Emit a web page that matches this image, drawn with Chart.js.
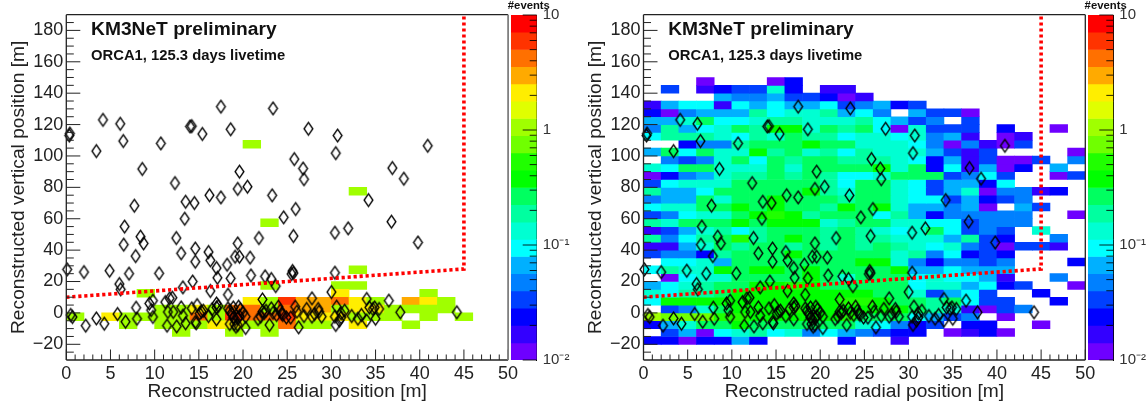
<!DOCTYPE html>
<html>
<head>
<meta charset="utf-8">
<title>ORCA1 event positions</title>
<script src="https://cdn.jsdelivr.net/npm/chart.js@4"></script>
<style>
  html, body { margin: 0; padding: 0; background: #fff; }
  #page { position: relative; width: 1148px; height: 407px; overflow: hidden; }
  canvas { position: absolute; top: 0; }
</style>
</head>
<body>
<div id="page">
  <canvas id="leftPlot" width="524" height="407" style="left:0"></canvas>
  <canvas id="leftBar" width="70" height="407" style="left:505px"></canvas>
  <canvas id="rightPlot" width="524" height="407" style="left:577px"></canvas>
  <canvas id="rightBar" width="66" height="407" style="left:1082px"></canvas>
</div>
<script>
// Axis and colour scale
const radialTicks = [0, 5, 10, 15, 20, 25, 30, 35, 40, 45, 50];
const radialMinorTicks = [1, 2, 3, 4, 6, 7, 8, 9, 11, 12, 13, 14, 16, 17, 18, 19, 21, 22, 23, 24, 26, 27, 28, 29, 31, 32, 33, 34, 36, 37, 38, 39, 41, 42, 43, 44, 46, 47, 48, 49];
const verticalTicks = [-20, 0, 20, 40, 60, 80, 100, 120, 140, 160, 180];
const verticalMinorTicks = [-25, -15, -10, -5, 5, 10, 15, 25, 30, 35, 45, 50, 55, 65, 70, 75, 85, 90, 95, 105, 110, 115, 125, 130, 135, 145, 150, 155, 165, 170, 175, 185];
const colorEdges = [0.01, 0.0141, 0.02, 0.0282, 0.0398, 0.0562, 0.0794, 0.112, 0.158, 0.224, 0.316, 0.447, 0.631, 0.891, 1.259, 1.778, 2.512, 3.548, 5.01, 7.08, 10];
const colorPalette = ['#6e00ff', '#3300ff', '#0000ff', '#0040ff', '#0080ff', '#00b0ff', '#00ffff', '#00ffd2', '#00ffa0', '#00ff60', '#00ff00', '#20ff00', '#70ff00', '#a0ff00', '#e0ff00', '#ffee00', '#ffaa00', '#ff7000', '#ff3300', '#ff0000'];
const colorTicks = [0.01, 0.1, 1, 10];
const colorTickLabels = ['10⁻²', '10⁻¹', '1', '10'];
const colorMinorTicks = [0.02, 0.03, 0.04, 0.05, 0.06, 0.07, 0.08, 0.09, 0.2, 0.3, 0.4, 0.5, 0.6, 0.7, 0.8, 0.9, 2, 3, 4, 5, 6, 7, 8, 9];

// Dotted cut line
const cutRadial = [0, 45, 45];
const cutVertical = [10, 28, 190];

// Left panel: signal histogram, lower bin edges and events
const signalRadial = [8, 22, 22, 20, 32, 32, 30, 32, 30, 40,
  20, 22, 24, 26, 28, 30, 32, 34, 38, 40, 42,
  10, 12, 14, 16, 18, 20, 22, 24, 26, 28, 30, 32, 34, 36, 38, 40, 42,
  0, 4, 6, 8, 10, 12, 14, 16, 18, 20, 22, 24, 26, 28, 30, 32, 34, 36, 40, 44,
  6, 10, 12, 14, 16, 18, 20, 22, 24, 26, 28, 32, 38,
  12, 18, 22];
const signalVertical = [10, 15, 55, 105, 75, 25, 15, 15, 10, 10,
  5, 5, 5, 5, 5, 5, 5, 5, 5, 5, 5,
  0, 0, 0, 0, 0, 0, 0, 0, 0, 0, 0, 0, 0, 0, 0, 0, 0,
  -5, -5, -5, -5, -5, -5, -5, -5, -5, -5, -5, -5, -5, -5, -5, -5, -5, -5, -5, -5,
  -10, -10, -10, -10, -10, -10, -10, -10, -10, -10, -10, -10, -10,
  -15, -15, -15];
const signalEvents = [1.06, 1.06, 1.06, 1.06, 1.06, 1.06, 1.06, 1.06, 2.1, 1.06,
  2.1, 1.06, 6, 3, 3, 4.2, 2.1, 1.06, 3, 2.1, 1.06,
  1.06, 1.06, 2.1, 1.06, 4.2, 4.2, 1.06, 4.2, 3, 3, 1.06, 2.1, 2.1, 1.06, 1.06, 1.06, 1.06,
  1.06, 2.1, 1.06, 1.06, 1.06, 1.06, 4.2, 1.06, 6, 4.2, 4.2, 6, 2.1, 2.1, 2.1, 1.06, 1.06, 1.06, 1.06, 1.06,
  1.06, 1.06, 1.06, 1.06, 2.1, 2.1, 1.06, 1.06, 4.2, 1.06, 1.06, 2.1, 1.06,
  1.06, 1.06, 1.06];

// Right panel: background histogram, one row per vertical bin
const radialBins = [0, 2, 4, 6, 8, 10, 12, 14, 16, 18, 20, 22, 24, 26, 28, 30, 32, 34, 36, 38, 40, 42, 44, 46, 48];
const verticalBins = [-20, -15, -10, -5, 0, 5, 10, 15, 20, 25, 30, 35, 40, 45, 50, 55, 60, 65, 70, 75, 80, 85, 90, 95, 100, 105, 110, 115, 120, 125, 130, 135, 140, 145];
const backgroundEvents = [
  [.024, .024, .012, .024, .024, .067, .024, 0, 0, 0, 0, .024, 0, 0, .017, 0, 0, 0, 0, 0, 0, 0, 0, 0, 0],
  [0, .033, .067, .012, .094, .13, .19, .094, .13, .047, .094, .067, .047, .033, .024, .024, 0, .012, .017, .024, .012, 0, 0, 0, 0],
  [.024, .067, .13, .27, .27, .37, .27, .27, .27, .27, .27, .27, .13, .094, .047, .024, .033, 0, .024, .024, 0, 0, .012, 0, 0],
  [1.06, .75, .75, .75, .53, .53, .37, .37, .37, .37, .37, .53, .27, .27, .27, .094, .067, .033, .047, 0, .012, 0, 0, 0, 0],
  [0, .033, .047, .13, .27, .37, .37, .37, .53, .37, .37, .37, .37, .37, .37, .27, .19, .13, .017, .012, .033, .047, 0, 0, 0],
  [.094, .37, .37, .37, .37, .37, .37, .37, .37, .37, .37, .53, .53, .37, .27, .27, .19, .27, .094, .033, .033, 0, 0, .024, 0],
  [.13, .094, .19, .19, .27, .37, .37, .37, .37, .37, .37, .37, .37, .27, .27, .13, .033, .067, .094, .033, 0, 0, .024, 0, 0],
  [.067, .094, .13, .19, .27, .27, .37, .37, .53, .37, .27, .27, .27, .27, .27, .094, .13, .13, .067, .094, .024, .033, 0, 0, .012],
  [0, .012, .094, .13, .13, .27, .27, .27, .27, .37, .27, .13, .27, .27, .27, .094, .13, .094, .094, .067, .017, 0, 0, .047, 0],
  [.094, .19, .13, .13, .37, .27, .37, .37, .27, .37, .27, .27, .27, .27, .37, .067, .067, .094, .067, .067, .067, 0, 0, 0, 0],
  [0, .094, .094, .13, .067, .27, .27, .27, .27, .27, .27, .27, .37, .37, .13, .047, .024, .047, .047, .033, .047, 0, 0, 0, .024],
  [.033, .047, .047, .024, .19, .27, .27, .27, .37, .27, .27, .27, .27, .27, .13, .19, .047, .094, .024, .033, .024, 0, 0, 0, 0],
  [.017, .017, .067, .13, .27, .19, .27, .27, .19, .27, .19, .27, .19, .27, .19, .13, .094, .13, .047, .033, .012, .033, .033, .017, 0],
  [.19, .047, .094, .19, .27, .53, .19, .27, .37, .27, .19, .27, .19, .19, .13, .13, .13, .067, .19, .033, .024, 0, 0, .047, 0],
  [.017, .033, .067, .13, .19, .094, .19, .27, .27, .27, .19, .27, .19, .13, .094, .13, .27, .094, .033, .047, .033, 0, .13, 0, 0],
  [.19, .13, .27, .27, .27, .37, .27, .37, .37, .37, .13, .19, .27, .27, .13, .13, .094, .094, .033, .047, .047, .047, 0, 0, 0],
  [.033, .047, .094, .13, .13, .27, .37, .53, .37, .19, .27, .27, .27, .094, .19, .067, .024, .047, .047, .047, .047, .047, 0, 0, .012],
  [.094, .13, .13, .27, .27, .37, .27, .37, .27, .27, .19, .37, .27, .37, .13, .067, .067, .047, .067, .012, 0, .067, .033, 0, 0],
  [.047, .067, .067, .27, .13, .27, .27, .37, .27, .27, .27, .19, .27, .27, .13, .094, .094, .033, .067, .024, .033, .047, 0, 0, 0],
  [.19, .067, .067, .094, .27, .27, .27, .27, .27, .37, .19, .13, .27, .27, .13, .094, .033, .067, .13, .012, .047, .047, .017, .024, 0],
  [.033, .094, .13, .13, .13, .27, .27, .27, .27, .27, .19, .094, .27, .27, .13, .094, .033, .067, .067, .024, .094, 0, 0, 0, 0],
  [.012, .024, .047, .067, .13, .19, .19, .27, .19, .27, .19, .094, .094, .13, .27, .27, .27, .033, .047, .094, .033, 0, 0, .012, .033],
  [.13, .094, .27, .27, .13, .13, .13, .27, .13, .27, .27, .27, .27, .37, .13, .27, .024, .094, .017, .067, .012, .024, 0, .067, 0],
  [0, .047, .033, .047, .13, .27, .094, .27, .19, .27, .27, .19, .19, .19, .13, .094, .024, .067, .017, .033, .012, .012, .033, 0, .047],
  [.067, .27, .094, .27, .13, .13, .37, .19, .27, .13, .19, .094, .19, .13, .13, .13, .067, .033, .017, .033, 0, 0, 0, 0, .012],
  [0, 0, .024, .047, .047, .19, .27, .27, .27, .37, .27, .27, .13, .13, .13, .094, .047, .012, .047, .017, .012, .033, 0, 0, 0],
  [.094, .19, .19, .19, .13, .094, .19, .13, .27, .19, .19, .094, .13, .13, .094, .13, .047, .067, .017, 0, .012, .017, 0, 0, 0],
  [.047, .19, .067, .094, .13, .27, .19, .37, .37, .13, .27, .19, .27, .094, .012, .13, .033, .033, .033, 0, .024, 0, 0, .012, 0],
  [.067, .067, .13, .27, .094, .094, .13, .19, .19, .13, .13, .13, .19, .094, .067, .033, .047, 0, .033, 0, 0, 0, 0, 0, 0],
  [.024, .012, .047, .067, .067, .067, .19, .094, .13, .13, .19, .067, .094, .047, 0, .067, .033, .033, .012, 0, 0, 0, 0, 0, 0],
  [.017, .067, .094, .094, .017, .094, .067, .094, .067, .067, .094, .033, .047, .067, .024, .033, 0, 0, 0, 0, 0, 0, 0, 0, 0],
  [0, 0, 0, 0, .067, .047, .047, .067, .033, .033, .024, .012, .017, 0, 0, 0, 0, 0, 0, 0, 0, 0, 0, 0, 0],
  [0, .033, 0, .017, .024, .033, .033, .13, .024, 0, .017, .017, 0, 0, 0, 0, 0, 0, 0, 0, 0, 0, 0, 0, 0],
  [0, 0, 0, .012, 0, 0, 0, .012, .024, 0, 0, 0, 0, 0, 0, 0, 0, 0, 0, 0, 0, 0, 0, 0, 0]
];

// Data events, same in both panels
const eventRadial = [0.34, 0.4, 3.4, 4.15, 6.1, 6.45, 8.6, 10.7, 12.3, 13.5, 14.5, 14, 14.2, 15.4, 16.2, 17.5, 17.5, 18.6, 19.4, 19.6, 20.5, 23.4, 23.3,
  27.4, 30.7, 30.5, 40.9, 25.8, 26.8, 26.9, 36.9, 38.2, 34.2,
  0.1, 2, 4.9, 6, 6.15, 6.6, 6.5, 7.85, 7.7, 8.4, 8.75, 7.1, 10.5, 12.45, 13, 13.4, 14.6, 14.6, 14.3, 13.2, 16.1, 16.3, 17, 17.1, 16.3, 18.2, 18.6, 18.3, 19.1, 19.6, 19.4, 20.8, 20.9, 21.8, 24.6, 22.5, 23.2, 23.7, 22.2, 25.5,
  0.5, 0.7, 2.2, 3.4, 4.3, 5.8, 6.7, 7.9, 8, 9.4, 9.8, 9.6, 9.8, 11.2, 11.5, 11.4, 11.7, 12, 12.1, 12.5, 13, 13.2, 13.5, 14.2, 14.6, 14.7, 14.8, 15.1, 15.3, 15.5, 16.1, 16.5, 17, 17, 17.2, 17,
  18.3, 18.5, 18.7, 18.9, 18.5, 18.9, 19.1, 19, 19.2, 19.4, 19.5, 19.7, 19.6, 20, 20.3, 20.3, 19.4,
  21.7, 22, 22.2, 22.4, 22.6, 23, 23.2, 23.4, 23.8, 24, 24.2, 24.4, 24.9,
  25.96, 25.7, 30.4, 31.9, 36.8, 39.8, 25.6, 25.7, 30.4, 30, 27.8, 34, 36.5, 25.9, 26.1, 27.2, 28.5, 28.6, 27.8, 28.1, 28.9, 26.9, 25.4, 26.3, 24.5, 30.6, 31.5, 31.1, 30.4, 31.1, 30.9, 30.5, 32.3, 33, 33.4, 34, 35, 34.3, 34.7, 34.9, 35.4, 37.8, 44.2];
const eventVertical = [113, 114.3, 103.1, 123, 120.5, 109.5, 91.7, 108, 82.7, 70.8, 70, 118.8, 119, 114, 75, 131.4, 73.6, 117, 79, 90, 80.4, 130.3, 74.9,
  117.3, 113, 101.8, 106.5, 98, 92, 85.2, 92.3, 85.5, 71.9,
  27.7, 26, 26.9, 18.4, 15, 55, 43.5, 36.2, 68.3, 48.6, 44.3, 25, 25.2, 47.7, 38, 60, 41, 32.6, 20, 16.3, 38.8, 33.5, 28.6, 22.4, 14, 30.7, 22, 11.6, 35.8, 35.8, 44.3, 35.2, 23.9, 47.7, 60.9, 23.3, 21.6, 17.1, 8.6, 24.8,
  -1.3, -2.6, -8.1, -3.5, -6.9, -0.7, -5.6, 3.3, -3.7, 6, 7.8, 1.8, -2.6, 6.9, 0.6, -8.1, 9.3, 9.7, 0.6, -8.6, 3.5, -1.8, -6.6, 2.9, -5.8, -6.6, 5, -0.3, 0.8, 1.4, -2, 2.3, -4, 6, 4.4, 3.5,
  2.9, 1.4, -0.3, 3.5, -7.1, -2.9, -4, -7.1, -8.8, -7.7, 4, 2.3, -2, 0.1, -2.4, -9.6, -3.5,
  -3.9, -2.4, 0.8, 0.1, 1.4, -7.7, 2.9, 0.1, -1.3, 4, 1.4, -0.3, -2.9,
  66.2, 49, 51.1, 53.9, 58.1, 44.9, 26.7, 25.4, 25.6, 13.3, 9.3, 8.9, 7.8, 4, 0.8, 2.5, 2.5, 0.8, -2.4, -0.7, -2.4, -2, -3, -9.2, -1.3, 4, 1.4, -0.3, -2.4, -2.9, -4.9, -7.7, -2, -3.7, -1.3, -4.9, -3.7, 3.5, 2.5, 3.5, 2.5, 0.4, 0.4];

const radialStep = 2;
const verticalStep = 5;
const FONT = "'Liberation Sans', Arial, sans-serif";
const INK = '#222';

function bandIndex(v) {
    for (let i = 0; i < colorPalette.length; i++) {
        if (v < colorEdges[i + 1]) return i;
    }
    return colorPalette.length - 1;
}

function signalCells() {
    return signalEvents.map((v, i) => ({
        x: signalRadial[i] + radialStep / 2,
        y: [signalVertical[i], signalVertical[i] + verticalStep],
        v: v
    }));
}

function backgroundCells() {
    const cells = [];
    backgroundEvents.forEach((row, j) => {
        row.forEach((v, i) => {
            if (v > 0) {
                cells.push({
                    x: radialBins[i] + radialStep / 2,
                    y: [verticalBins[j], verticalBins[j] + verticalStep],
                    v: v
                });
            }
        });
    });
    return cells;
}

// open, tall diamond marker
function diamondMarker() {
    const c = document.createElement('canvas');
    c.width = 13;
    c.height = 17;
    const g = c.getContext('2d');
    g.strokeStyle = '#000';
    g.lineWidth = 1.35;
    g.beginPath();
    g.moveTo(6.5, 2.2);
    g.lineTo(10.9, 8.5);
    g.lineTo(6.5, 14.8);
    g.lineTo(2.1, 8.5);
    g.closePath();
    g.stroke();
    return c;
}

// ROOT style frame and inward ticks, plus the two text lines in the plot
const panelDecor = {
    id: 'panelDecor',
    afterDraw(chart, args, opts) {
        const { ctx, chartArea: a, scales: { x, y } } = chart;
        ctx.save();
        ctx.strokeStyle = INK;
        ctx.lineWidth = 1;
        const tick = (x1, y1, x2, y2) => {
            ctx.beginPath();
            ctx.moveTo(x1, y1);
            ctx.lineTo(x2, y2);
            ctx.stroke();
        };
        radialTicks.forEach(v => { const p = x.getPixelForValue(v); tick(p, a.bottom, p, a.bottom - 10.5); });
        radialMinorTicks.forEach(v => { const p = x.getPixelForValue(v); tick(p, a.bottom, p, a.bottom - 5.5); });
        verticalTicks.forEach(v => { const p = y.getPixelForValue(v); tick(a.left, p, a.left + 14, p); });
        verticalMinorTicks.forEach(v => { const p = y.getPixelForValue(v); tick(a.left, p, a.left + 7.5, p); });

        ctx.lineWidth = 1.3;
        tick(a.left, a.top, a.right, a.top);
        tick(a.left, a.top, a.left, a.bottom);
        tick(a.left, a.bottom, a.right, a.bottom);
        ctx.strokeStyle = opts.rightEdge;
        ctx.lineWidth = opts.rightWidth;
        tick(a.right, a.top, a.right, a.bottom);

        ctx.fillStyle = '#111';
        ctx.textBaseline = 'alphabetic';
        ctx.font = 'bold 19.2px ' + FONT;
        ctx.fillText('KM3NeT preliminary', x.getPixelForValue(2.8), y.getPixelForValue(176.8));
        ctx.font = 'bold 14.8px ' + FONT;
        ctx.fillText('ORCA1, 125.3 days livetime', x.getPixelForValue(2.8), y.getPixelForValue(160.9));
        ctx.restore();
    }
};

const colorDecor = {
    id: 'colorDecor',
    afterDraw(chart) {
        const { ctx, chartArea: a, scales: { y } } = chart;
        ctx.save();
        ctx.strokeStyle = 'rgba(0,0,0,0.85)';
        ctx.lineWidth = 1;
        const tick = (v, len) => {
            const p = y.getPixelForValue(v);
            ctx.beginPath();
            ctx.moveTo(a.right, p);
            ctx.lineTo(a.right - len, p);
            ctx.stroke();
        };
        colorTicks.forEach(v => tick(v, 14));
        colorMinorTicks.forEach(v => tick(v, 7));
        ctx.fillStyle = '#111';
        ctx.font = 'bold 11.3px ' + FONT;
        ctx.textAlign = 'center';
        ctx.textBaseline = 'middle';
        ctx.fillText('#events', a.left + a.width / 2 + 5, 5.5);
        ctx.restore();
    }
};

function makePanel(id, cells, rightEdge, rightWidth, left, right) {
    return new Chart(document.getElementById(id), {
        type: 'bar',
        data: {
            datasets: [
                {
                    type: 'line',
                    data: cutRadial.map((r, i) => ({ x: r, y: cutVertical[i] })),
                    borderColor: '#ff0000',
                    borderWidth: 3.6,
                    borderDash: [3.2, 2.8],
                    borderCapStyle: 'butt',
                    pointRadius: 0,
                    tension: 0,
                    fill: false,
                    clip: false,
                    order: 1
                },
                {
                    type: 'scatter',
                    data: eventRadial.map((r, i) => ({ x: r, y: eventVertical[i] })),
                    pointStyle: diamondMarker(),
                    clip: false,
                    order: 2
                },
                {
                    type: 'bar',
                    data: cells,
                    backgroundColor: ctx => colorPalette[bandIndex(ctx.raw ? ctx.raw.v : 1)],
                    borderWidth: 0,
                    grouped: false,
                    categoryPercentage: 1,
                    barPercentage: 1,
                    order: 3
                }
            ]
        },
        options: {
            responsive: false,
            animation: false,
            events: [],
            layout: { padding: { left: 0, right: right, top: 14.7, bottom: 0 } },
            plugins: {
                legend: { display: false },
                tooltip: { enabled: false },
                panelDecor: { rightEdge: rightEdge, rightWidth: rightWidth }
            },
            scales: {
                x: {
                    type: 'linear',
                    min: 0,
                    max: 50,
                    offset: false,
                    grid: { display: false, offset: false, drawTicks: false },
                    border: { display: false },
                    afterBuildTicks: s => { s.ticks = radialTicks.map(v => ({ value: v })); },
                    afterFit: s => { s.height = 47; },
                    ticks: {
                        autoSkip: false,
                        maxRotation: 0,
                        padding: 3,
                        color: INK,
                        font: { family: FONT, size: 18 }
                    },
                    title: {
                        display: true,
                        text: 'Reconstructed radial position [m]',
                        color: INK,
                        font: { family: FONT, size: 19.2 },
                        padding: { top: 0, bottom: 3.5 }
                    }
                },
                y: {
                    type: 'linear',
                    min: -30,
                    max: 190,
                    grid: { display: false, drawTicks: false },
                    border: { display: false },
                    afterBuildTicks: s => { s.ticks = verticalTicks.map(v => ({ value: v })); },
                    afterFit: s => { s.width = left; },
                    ticks: {
                        autoSkip: false,
                        padding: 3,
                        color: INK,
                        font: { family: FONT, size: 18 },
                        callback: v => String(v).replace('-', '−')
                    },
                    title: {
                        display: true,
                        text: 'Reconstructed vertical position [m]',
                        color: INK,
                        font: { family: FONT, size: 19.2 },
                        padding: { top: 7, bottom: 0 }
                    }
                }
            }
        },
        plugins: [panelDecor]
    });
}

function makeColorBar(id, padLeft, axisWidth) {
    return new Chart(document.getElementById(id), {
        type: 'bar',
        data: {
            labels: ['events'],
            datasets: [{
                data: colorPalette.map((c, i) => ({ x: 'events', y: [colorEdges[i], colorEdges[i + 1]] })),
                backgroundColor: colorPalette,
                borderWidth: 0,
                grouped: false,
                categoryPercentage: 1,
                barPercentage: 1
            }]
        },
        options: {
            responsive: false,
            animation: false,
            events: [],
            layout: { padding: { left: padLeft, right: 0, top: 14.7, bottom: 47 } },
            plugins: { legend: { display: false }, tooltip: { enabled: false } },
            scales: {
                x: { display: false },
                y: {
                    type: 'logarithmic',
                    position: 'right',
                    min: 0.01,
                    max: 10,
                    grid: { display: false, drawTicks: false },
                    border: { display: true, color: '#000', width: 1 },
                    afterBuildTicks: s => { s.ticks = colorTicks.map(v => ({ value: v })); },
                    afterFit: s => { s.width = axisWidth; },
                    ticks: {
                        autoSkip: false,
                        padding: 6,
                        color: '#333',
                        font: { family: FONT, size: 15 },
                        callback: (v, i) => colorTickLabels[i]
                    }
                }
            }
        },
        plugins: [colorDecor]
    });
}

makePanel('leftPlot', signalCells(), '#808080', 1.8, 66.3, 15.9);
makeColorBar('leftBar', 6, 38.3);
makePanel('rightPlot', backgroundCells(), '#222', 1.3, 66.5, 15.7);
makeColorBar('rightBar', 6, 34.7);
</script>
</body>
</html>
